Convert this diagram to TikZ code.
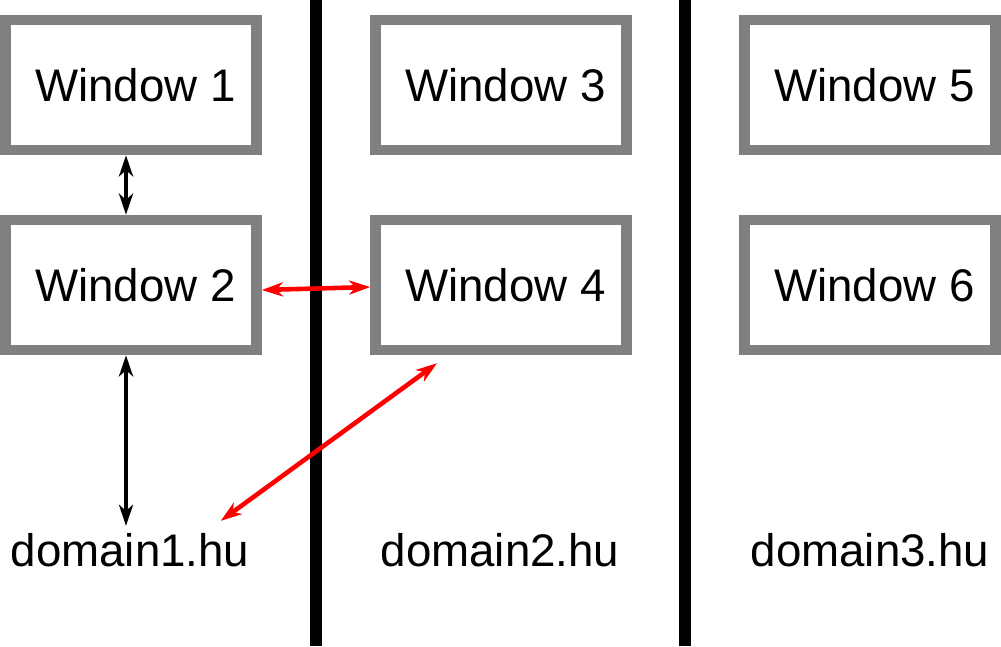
\documentclass[tikz,border=0pt]{standalone}
\usepackage{fontspec}
\setmainfont{Liberation Sans}
\usepackage{tikz}
\usetikzlibrary{arrows.meta,calc,positioning}
\newcommand{\bigtext}{\fontsize{26}{30}\selectfont}

\begin{document}
\begin{tikzpicture}[x=0.02cm,y=-0.02cm,>={Stealth[length=12pt,width=8pt,inset=3.5pt]},
    win/.style={draw=gray,line width=6pt,minimum width=5.02cm,minimum height=2.6cm,font=\bigtext},
    site/.style={font=\bigtext,inner sep=4pt}]
  \useasboundingbox (0,0) rectangle (1001,646);
  \foreach \x in {316,685} \draw[line width=6.8pt] (\x,0) -- (\x,646);
  \foreach \i/\x/\y in {1/131/85,2/131/285,3/501/85,4/501/285,5/870/85,6/870/285}
    \node[win] (w\i) at (\x,\y) {\hspace{5pt}Window \i};
  \foreach \i/\x in {1/130,2/500,3/870} \node[site] (d\i) at (\x,550) {domain\i.hu};
  \draw[<->,line width=2.2pt] ($(w1.south)+(-5,0)$) -- ($(w2.north)+(-5,0)$);
  \draw[<->,line width=2.2pt] ($(w2.south)+(-5,0)$) -- ($(d1.north)+(-4,0)$);
  \draw[<->,line width=2.6pt,red] ($(w2.east)+(0,5)$) -- ($(w4.west)+(0,2)$);
  \draw[<->,line width=2.6pt,red] ($(d1.north east)+(-36,-5)$) -- ($(w4.south)+(-64,8)$);
\end{tikzpicture}
\end{document}
